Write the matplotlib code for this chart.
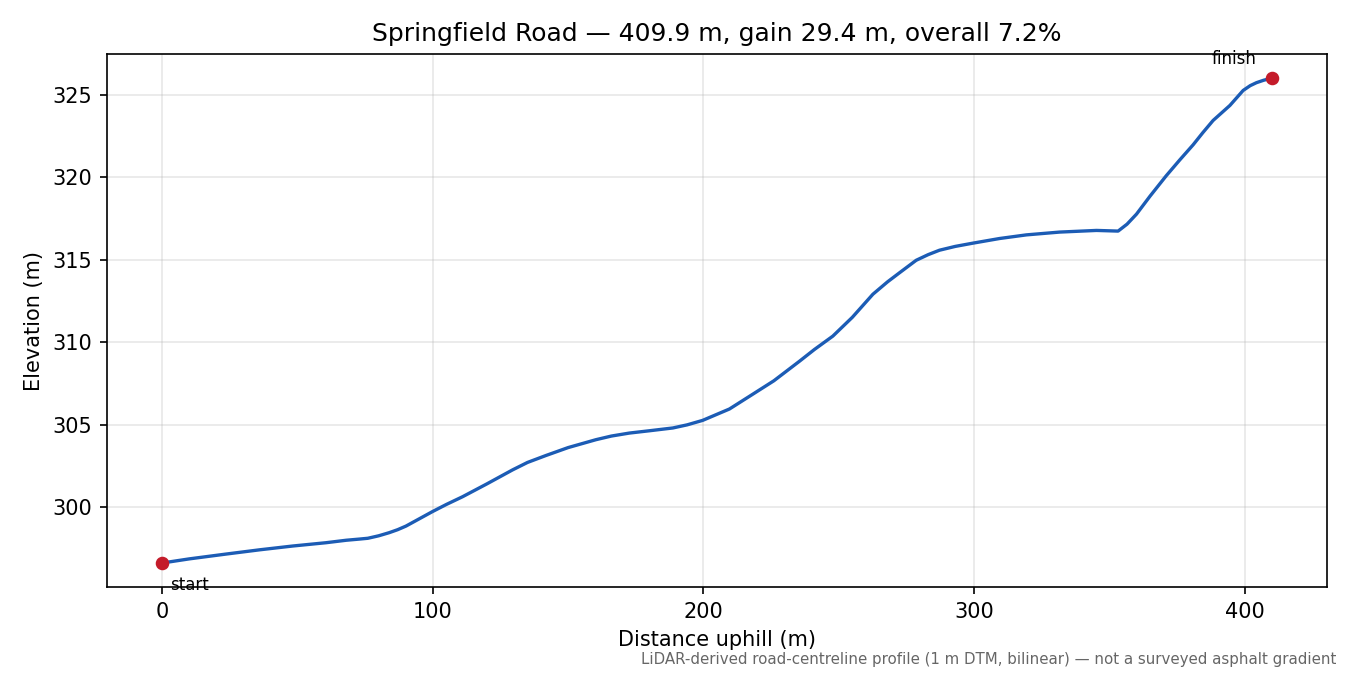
import numpy as np
import matplotlib
matplotlib.use("Agg")
import matplotlib.pyplot as plt

# ---- profile (distance uphill, elevation) ----
distance_m = [0.0, 10.0, 23.5, 36.0, 48.2, 60.5, 68.0, 72.8, 76.0, 80.0, 83.9,
              87.0, 90.1, 95.0, 99.9, 105.0, 111.0, 120.0, 129.5, 135.0, 141.8,
              150.0, 160.3, 166.0, 172.6, 180.0, 188.7, 194.0, 199.7, 204.0,
              209.6, 217.0, 226.0, 235.5, 241.0, 247.8, 255.0, 262.6, 268.0,
              272.5, 278.6, 283.0, 287.2, 293.0, 299.6, 309.4, 319.3, 331.6,
              345.2, 353.2, 356.5, 360.0, 365.0, 371.0, 376.0, 380.9, 384.5,
              388.3, 394.5, 399.4, 402.0, 404.3, 407.0, 409.9]
elevation_m = [296.60, 296.85, 297.14, 297.40, 297.63, 297.83, 297.98, 298.05,
               298.10, 298.25, 298.44, 298.62, 298.84, 299.28, 299.72, 300.15,
               300.62, 301.40, 302.25, 302.70, 303.12, 303.60, 304.08, 304.30,
               304.48, 304.62, 304.79, 304.98, 305.25, 305.55, 305.94, 306.71,
               307.65, 308.84, 309.55, 310.36, 311.50, 312.90, 313.65, 314.21,
               314.96, 315.30, 315.57, 315.80, 316.00, 316.28, 316.50, 316.67,
               316.77, 316.73, 317.15, 317.76, 318.85, 320.09, 321.05, 321.96,
               322.70, 323.44, 324.35, 325.26, 325.55, 325.73, 325.88, 326.00]

road = "Springfield Road"
dist = np.array(distance_m)
elev = np.array(elevation_m)
length = dist[-1] - dist[0]
gain = elev[-1] - elev[0]
grade = 100 * gain / length

fig, ax = plt.subplots(figsize=(9, 4.5), dpi=150)

ax.plot(dist, elev, color="#1c5cb5", lw=1.6)
ax.plot([dist[0], dist[-1]], [elev[0], elev[-1]], "o", color="#c41b2a",
        markersize=5.5, zorder=3)

ax.annotate("start", (dist[0], elev[0]), xytext=(4, -6),
            textcoords="offset points", ha="left", va="top", fontsize=8)
ax.annotate("finish", (dist[-1], elev[-1]), xytext=(-7, 5),
            textcoords="offset points", ha="right", va="bottom", fontsize=8)

ax.set_title(f"{road} \u2014 {length:.1f} m, gain {gain:.1f} m, overall {grade:.1f}%",
             fontsize=12)
ax.set_xlabel("Distance uphill (m)")
ax.set_ylabel("Elevation (m)")
ax.grid(True, alpha=0.3)

fig.text(0.99, 0.012,
         "LiDAR-derived road-centreline profile (1 m DTM, bilinear) \u2014 not a surveyed asphalt gradient",
         ha="right", va="bottom", fontsize=7.2, color="#666666")

plt.subplots_adjust(left=0.079, right=0.983, top=0.92, bottom=0.13)
plt.savefig("out.png", dpi=150)
